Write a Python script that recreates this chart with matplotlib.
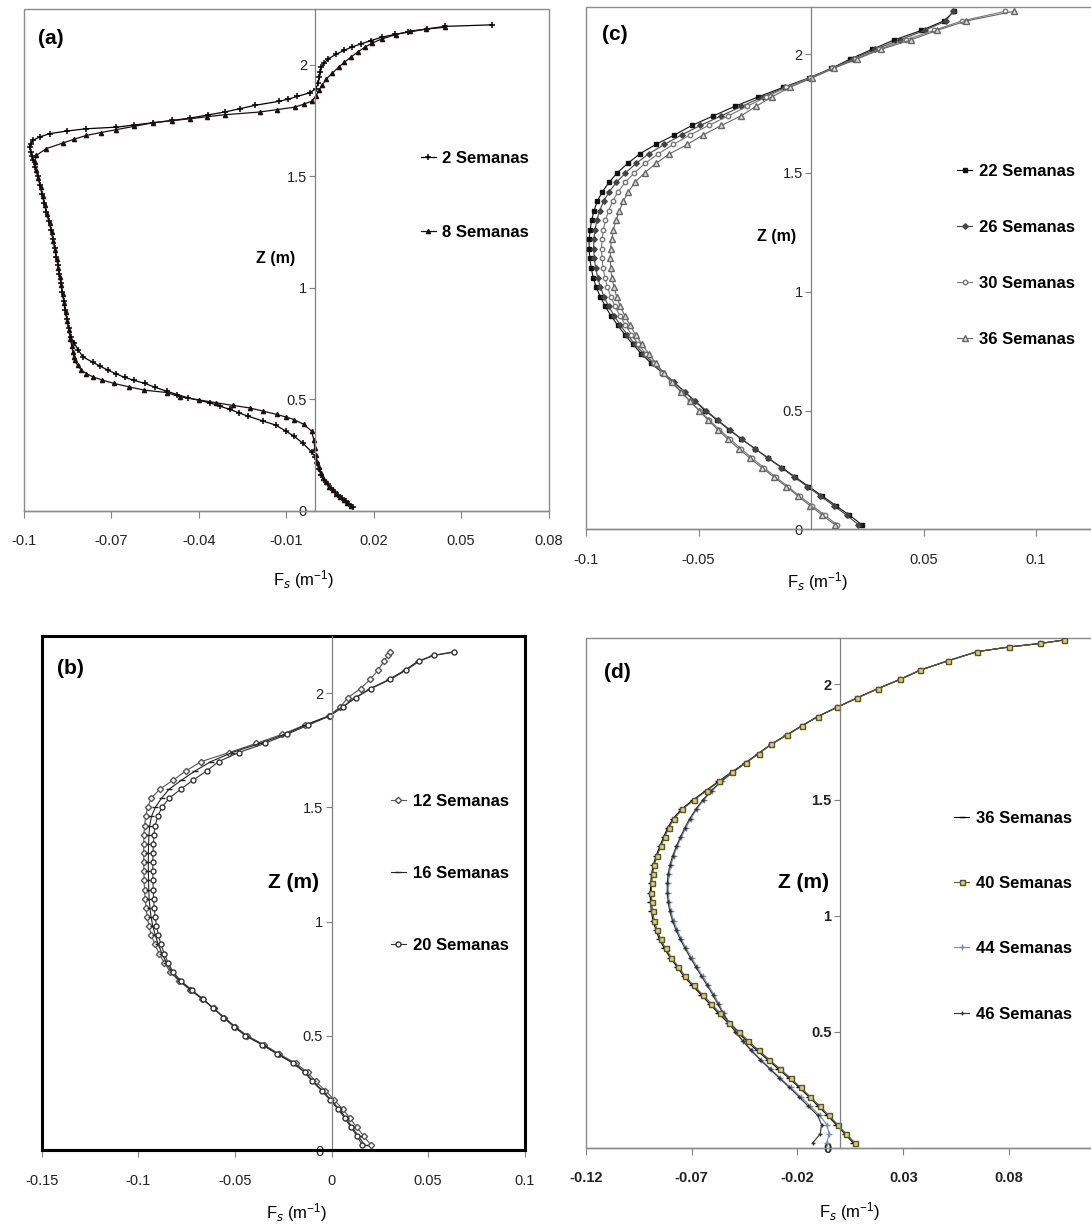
#Perfiles de Fs vs profundidad (a)-(d)

import numpy as np
import matplotlib.pyplot as plt
from matplotlib.patches import Rectangle

NARROW = ['Liberation Sans Narrow', 'Liberation Sans', 'DejaVu Sans']
plt.rcParams['font.family'] = NARROW
plt.rcParams['mathtext.default'] = 'regular'

W, H = 1091, 1229

# ---------------- panel (a): 2 y 8 semanas ----------------
z_2sem = [2.179, 2.172, 2.161, 2.146, 2.136, 2.124, 2.108, 2.094, 2.080, 2.064,
          2.046, 2.027, 2.008, 1.989, 1.966, 1.944, 1.918, 1.893, 1.874, 1.858,
          1.846, 1.836, 1.818, 1.803, 1.788, 1.775, 1.761, 1.750, 1.740, 1.730,
          1.720, 1.713, 1.703, 1.691, 1.676, 1.661, 1.646, 1.631, 1.610, 1.590,
          1.571, 1.54, 1.50, 1.46, 1.42, 1.38, 1.34, 1.30, 1.26, 1.22,
          1.18, 1.14, 1.10, 1.06, 1.02, 0.98, 0.94, 0.90, 0.86, 0.82,
          0.78, 0.75, 0.72, 0.690, 0.665, 0.648, 0.630, 0.614, 0.598, 0.584,
          0.571, 0.553, 0.536, 0.521, 0.506, 0.484, 0.469, 0.454, 0.439, 0.424,
          0.402, 0.384, 0.357, 0.335, 0.302, 0.264, 0.240, 0.212, 0.185, 0.160,
          0.138, 0.118, 0.100, 0.084, 0.070, 0.056, 0.042, 0.030, 0.018]
fs_2sem = [0.0605, 0.0444, 0.0384, 0.0319, 0.0272, 0.0229, 0.0190, 0.0158, 0.0126, 0.0098,
           0.0070, 0.0045, 0.0030, 0.0021, 0.0017, 0.0014, 0.0010, 0.0002, -0.0019, -0.0062,
           -0.0092, -0.0124, -0.0207, -0.0258, -0.0310, -0.0368, -0.0428, -0.0492, -0.0556, -0.0620,
           -0.0682, -0.0785, -0.0850, -0.0911, -0.0945, -0.0968, -0.0976, -0.0979, -0.0976, -0.0971,
           -0.0967, -0.0960, -0.0952, -0.0944, -0.0937, -0.0930, -0.0922, -0.0914, -0.0906, -0.0900,
           -0.0894, -0.0888, -0.0882, -0.0877, -0.0872, -0.0867, -0.0862, -0.0857, -0.0852, -0.0846,
           -0.0838, -0.0826, -0.0812, -0.0797, -0.0762, -0.0737, -0.0711, -0.0683, -0.0654, -0.0620,
           -0.0585, -0.0548, -0.0510, -0.0473, -0.0436, -0.0362, -0.0327, -0.0293, -0.0262, -0.0231,
           -0.0179, -0.0136, -0.0101, -0.0074, -0.0042, -0.0013, 0.0000, 0.0006, 0.0012, 0.0020,
           0.0030, 0.0042, 0.0054, 0.0066, 0.0078, 0.0091, 0.0104, 0.0116, 0.0128]

z_8sem = [2.168, 2.160, 2.151, 2.135, 2.116, 2.098, 2.079, 2.057, 2.034, 2.012,
          1.989, 1.962, 1.937, 1.910, 1.885, 1.860, 1.836, 1.823, 1.810, 1.799,
          1.788, 1.776, 1.767, 1.758, 1.749, 1.740, 1.724, 1.709, 1.696, 1.683,
          1.666, 1.649, 1.624, 1.594, 1.564, 1.53, 1.49, 1.45, 1.41, 1.37,
          1.33, 1.29, 1.25, 1.21, 1.17, 1.13, 1.09, 1.05, 1.01, 0.97,
          0.93, 0.89, 0.85, 0.81, 0.77, 0.74, 0.71, 0.690, 0.675, 0.652,
          0.630, 0.615, 0.600, 0.586, 0.571, 0.556, 0.541, 0.530, 0.511, 0.497,
          0.484, 0.472, 0.461, 0.447, 0.432, 0.420, 0.409, 0.387, 0.357, 0.317,
          0.280, 0.250, 0.220, 0.195, 0.170, 0.148, 0.127, 0.108, 0.092, 0.076,
          0.062, 0.048, 0.035, 0.022]
fs_8sem = [0.0444, 0.0380, 0.0325, 0.0275, 0.0229, 0.0196, 0.0170, 0.0145, 0.0122, 0.0100,
           0.0080, 0.0058, 0.0038, 0.0024, 0.0012, 0.0002, -0.0013, -0.0040, -0.0070, -0.0130,
           -0.0190, -0.0310, -0.0370, -0.0428, -0.0492, -0.0556, -0.0620, -0.0682, -0.0735, -0.0785,
           -0.0827, -0.0865, -0.0922, -0.0956, -0.0962, -0.0957, -0.0949, -0.0941, -0.0934, -0.0927,
           -0.0919, -0.0911, -0.0904, -0.0898, -0.0892, -0.0886, -0.0881, -0.0876, -0.0871, -0.0866,
           -0.0861, -0.0856, -0.0851, -0.0845, -0.0840, -0.0835, -0.0830, -0.0828, -0.0825, -0.0815,
           -0.0802, -0.0785, -0.0762, -0.0730, -0.0691, -0.0640, -0.0588, -0.0510, -0.0465, -0.0400,
           -0.0339, -0.0282, -0.0225, -0.0180, -0.0133, -0.0100, -0.0074, -0.0039, -0.0013, -0.0005,
           -0.0002, 0.0002, 0.0007, 0.0013, 0.0019, 0.0027, 0.0037, 0.0048, 0.0059, 0.0071,
           0.0084, 0.0097, 0.0110, 0.0122]

# ---------------- panel (b): 12, 16 y 20 semanas ----------------
z_b = [0.02, 0.06, 0.10, 0.14, 0.18, 0.22, 0.26, 0.30, 0.34, 0.38,
       0.42, 0.46, 0.50, 0.54, 0.58, 0.62, 0.66, 0.70, 0.74, 0.78,
       0.82, 0.86, 0.90, 0.94, 0.98, 1.02, 1.06, 1.10, 1.14, 1.18,
       1.22, 1.26, 1.30, 1.34, 1.38, 1.42, 1.46, 1.50, 1.54, 1.58,
       1.62, 1.66, 1.70, 1.74, 1.78, 1.82, 1.86, 1.90, 1.94, 1.98,
       2.02, 2.06, 2.10, 2.14, 2.165, 2.18]
fs_12sem = [0.0205, 0.0168, 0.0130, 0.0095, 0.0057, 0.0013, -0.0032, -0.0082, -0.0124, -0.0186,
            -0.0270, -0.0348, -0.0436, -0.0498, -0.0555, -0.0609, -0.0668, -0.0730, -0.0790, -0.0835,
            -0.0866, -0.0892, -0.0915, -0.0932, -0.0945, -0.0954, -0.0960, -0.0965, -0.0968, -0.0970,
            -0.0971, -0.0972, -0.0972, -0.0972, -0.0971, -0.0968, -0.0962, -0.0952, -0.0933, -0.0888,
            -0.0818, -0.0753, -0.0675, -0.0530, -0.0390, -0.0255, -0.0140, -0.0015, 0.0045, 0.0085,
            0.0150, 0.0200, 0.0240, 0.0272, 0.0290, 0.0303]
fs_16sem = [0.0172, 0.0140, 0.0106, 0.0074, 0.0038, -0.0004, -0.0047, -0.0096, -0.0136, -0.0196,
            -0.0278, -0.0355, -0.0443, -0.0503, -0.0558, -0.0610, -0.0667, -0.0727, -0.0785, -0.0828,
            -0.0855, -0.0877, -0.0897, -0.0912, -0.0925, -0.0934, -0.0940, -0.0944, -0.0946, -0.0947,
            -0.0948, -0.0948, -0.0948, -0.0947, -0.0945, -0.0941, -0.0932, -0.0912, -0.0880, -0.0840,
            -0.0775, -0.0705, -0.0625, -0.0515, -0.0370, -0.0240, -0.0135, -0.0012, 0.0058, 0.0123,
            0.0200, 0.0298, 0.0378, 0.0448, 0.0525, 0.0630]
fs_20sem = [0.0160, 0.0132, 0.0100, 0.0068, 0.0032, -0.0009, -0.0052, -0.0100, -0.0140, -0.0200,
            -0.0282, -0.0358, -0.0446, -0.0506, -0.0560, -0.0611, -0.0665, -0.0722, -0.0780, -0.0820,
            -0.0846, -0.0866, -0.0883, -0.0896, -0.0906, -0.0913, -0.0918, -0.0921, -0.0923, -0.0924,
            -0.0925, -0.0925, -0.0924, -0.0922, -0.0919, -0.0913, -0.0900, -0.0878, -0.0840, -0.0780,
            -0.0715, -0.0645, -0.0585, -0.0480, -0.0345, -0.0230, -0.0120, -0.0010, 0.0060, 0.0125,
            0.0205, 0.0305, 0.0385, 0.0455, 0.0530, 0.0636]

# ---------------- panel (c): 22, 26, 30 y 36 semanas ----------------
z_c = [0.02, 0.06, 0.10, 0.14, 0.18, 0.22, 0.26, 0.30, 0.34, 0.38,
       0.42, 0.46, 0.50, 0.54, 0.58, 0.62, 0.66, 0.70, 0.74, 0.78,
       0.82, 0.86, 0.90, 0.94, 0.98, 1.02, 1.06, 1.10, 1.14, 1.18,
       1.22, 1.26, 1.30, 1.34, 1.38, 1.42, 1.46, 1.50, 1.54, 1.58,
       1.62, 1.66, 1.70, 1.74, 1.78, 1.82, 1.86, 1.90, 1.94, 1.98,
       2.02, 2.06, 2.10, 2.14, 2.18]
fs_22sem = [0.0225, 0.0170, 0.0110, 0.0050, -0.0010, -0.0070, -0.0130, -0.0190, -0.0250, -0.0310,
            -0.0365, -0.0418, -0.0470, -0.0518, -0.0563, -0.0612, -0.0662, -0.0712, -0.0755, -0.0793,
            -0.0828, -0.0860, -0.0890, -0.0915, -0.0937, -0.0955, -0.0968, -0.0977, -0.0983, -0.0986,
            -0.0986, -0.0982, -0.0975, -0.0965, -0.0950, -0.0928, -0.0898, -0.0862, -0.0815, -0.0762,
            -0.0690, -0.0607, -0.0530, -0.0435, -0.0340, -0.0235, -0.0125, -0.0010, 0.0090, 0.0175,
            0.0270, 0.0370, 0.0490, 0.0590, 0.0636]
fs_26sem = [0.0210, 0.0158, 0.0100, 0.0042, -0.0016, -0.0075, -0.0133, -0.0192, -0.0250, -0.0308,
            -0.0362, -0.0415, -0.0466, -0.0515, -0.0562, -0.0610, -0.0657, -0.0703, -0.0745, -0.0783,
            -0.0817, -0.0848, -0.0875, -0.0900, -0.0920, -0.0936, -0.0948, -0.0957, -0.0963, -0.0966,
            -0.0965, -0.0960, -0.0952, -0.0940, -0.0922, -0.0898, -0.0865, -0.0825, -0.0778, -0.0722,
            -0.0652, -0.0575, -0.0492, -0.0400, -0.0310, -0.0215, -0.0115, -0.0005, 0.0092, 0.0185,
            0.0285, 0.0395, 0.0505, 0.0600, 0.0630]
fs_30sem = [0.0115, 0.0060, 0.0005, -0.0050, -0.0103, -0.0157, -0.0210, -0.0262, -0.0312, -0.0360,
            -0.0407, -0.0452, -0.0495, -0.0538, -0.0580, -0.0622, -0.0662, -0.0700, -0.0735, -0.0768,
            -0.0798, -0.0825, -0.0850, -0.0872, -0.0890, -0.0905, -0.0916, -0.0924, -0.0929, -0.0931,
            -0.0929, -0.0923, -0.0914, -0.0900, -0.0882, -0.0858, -0.0826, -0.0786, -0.0738, -0.0680,
            -0.0612, -0.0538, -0.0455, -0.0368, -0.0285, -0.0200, -0.0110, -0.0005, 0.0095, 0.0195,
            0.0300, 0.0420, 0.0545, 0.0670, 0.0860]
fs_36sem_c = [0.0105, 0.0050, -0.0005, -0.0058, -0.0110, -0.0165, -0.0220, -0.0272, -0.0322, -0.0370,
              -0.0415, -0.0458, -0.0498, -0.0538, -0.0578, -0.0617, -0.0655, -0.0690, -0.0722, -0.0752,
              -0.0780, -0.0805, -0.0828, -0.0848, -0.0864, -0.0876, -0.0885, -0.0890, -0.0892, -0.0891,
              -0.0886, -0.0878, -0.0867, -0.0852, -0.0835, -0.0812, -0.0783, -0.0740, -0.0690, -0.0630,
              -0.0550, -0.0480, -0.0398, -0.0312, -0.0245, -0.0175, -0.0095, 0.0005, 0.0100, 0.0205,
              0.0310, 0.0443, 0.0560, 0.0690, 0.0900]

# ---------------- panel (d): 36, 40, 44 y 46 semanas ----------------
z_d = [0.02, 0.06, 0.10, 0.14, 0.18, 0.22, 0.26, 0.30, 0.34, 0.38,
       0.42, 0.46, 0.50, 0.54, 0.58, 0.62, 0.66, 0.70, 0.74, 0.78,
       0.82, 0.86, 0.90, 0.94, 0.98, 1.02, 1.06, 1.10, 1.14, 1.18,
       1.22, 1.26, 1.30, 1.34, 1.38, 1.42, 1.46, 1.50, 1.54, 1.58,
       1.62, 1.66, 1.70, 1.74, 1.78, 1.82, 1.86, 1.90, 1.94, 1.98,
       2.02, 2.06, 2.10, 2.14, 2.16, 2.175, 2.19]
fs_36sem_d = [0.0064, 0.0024, -0.0017, -0.0059, -0.0102, -0.0146, -0.0192, -0.0240, -0.0290, -0.0341,
              -0.0391, -0.0439, -0.0484, -0.0529, -0.0573, -0.0614, -0.0655, -0.0697, -0.0737, -0.0769,
              -0.0801, -0.0829, -0.0852, -0.0869, -0.0882, -0.0890, -0.0894, -0.0895, -0.0893, -0.0889,
              -0.0881, -0.0867, -0.0850, -0.0832, -0.0813, -0.0787, -0.0748, -0.0693, -0.0633, -0.0573,
              -0.0511, -0.0446, -0.0385, -0.0325, -0.0252, -0.0179, -0.0104, -0.0013, 0.0081, 0.0179,
              0.0284, 0.0380, 0.0510, 0.0650, 0.0800, 0.0945, 0.1060]
fs_40sem = [0.0072, 0.0031, -0.0010, -0.0052, -0.0095, -0.0139, -0.0185, -0.0232, -0.0282, -0.0333,
            -0.0383, -0.0431, -0.0476, -0.0521, -0.0565, -0.0606, -0.0647, -0.0690, -0.0730, -0.0762,
            -0.0795, -0.0823, -0.0846, -0.0863, -0.0876, -0.0884, -0.0888, -0.0890, -0.0888, -0.0884,
            -0.0876, -0.0862, -0.0845, -0.0827, -0.0808, -0.0782, -0.0743, -0.0688, -0.0628, -0.0569,
            -0.0508, -0.0443, -0.0383, -0.0323, -0.0250, -0.0178, -0.0103, -0.0012, 0.0082, 0.0180,
            0.0285, 0.0380, 0.0510, 0.0650, 0.0800, 0.0945, 0.1060]
fs_44sem = [-0.0062, -0.0050, -0.0062, -0.0095, -0.0140, -0.0185, -0.0232, -0.0280, -0.0327, -0.0373,
            -0.0416, -0.0456, -0.0492, -0.0522, -0.0548, -0.0570, -0.0594, -0.0620, -0.0648, -0.0673,
            -0.0700, -0.0725, -0.0748, -0.0768, -0.0785, -0.0798, -0.0806, -0.0810, -0.0810, -0.0806,
            -0.0797, -0.0784, -0.0767, -0.0748, -0.0727, -0.0703, -0.0676, -0.0643, -0.0603, -0.0558,
            -0.0503, -0.0443, -0.0383, -0.0323, -0.0250, -0.0178, -0.0103, -0.0012, 0.0082, 0.0180,
            0.0285, 0.0380, 0.0510, 0.0650, 0.0800, 0.0945, 0.1060]
fs_46sem = [-0.0128, -0.0092, -0.0086, -0.0105, -0.0150, -0.0193, -0.0238, -0.0285, -0.0331, -0.0376,
            -0.0419, -0.0458, -0.0494, -0.0525, -0.0552, -0.0576, -0.0600, -0.0626, -0.0654, -0.0680,
            -0.0706, -0.0731, -0.0754, -0.0774, -0.0790, -0.0803, -0.0811, -0.0815, -0.0815, -0.0811,
            -0.0802, -0.0789, -0.0772, -0.0753, -0.0732, -0.0708, -0.0680, -0.0647, -0.0607, -0.0561,
            -0.0506, -0.0445, -0.0384, -0.0324, -0.0251, -0.0178, -0.0103, -0.0012, 0.0082, 0.0180,
            0.0285, 0.0380, 0.0510, 0.0650, 0.0800, 0.0945, 0.1060]

# ticks
xt_a = [-0.1, -0.07, -0.04, -0.01, 0.02, 0.05, 0.08]
xl_a = ['-0.1', '-0.07', '-0.04', '-0.01', '0.02', '0.05', '0.08']
xt_b = [-0.15, -0.1, -0.05, 0, 0.05, 0.1]
xl_b = ['-0.15', '-0.1', '-0.05', '0', '0.05', '0.1']
xt_c = [-0.1, -0.05, 0.05, 0.1]
xl_c = ['-0.1', '-0.05', '0.05', '0.1']
xt_d = [-0.12, -0.07, -0.02, 0.03, 0.08]
xl_d = ['-0.12', '-0.07', '-0.02', '0.03', '0.08']
yt = [0, 0.5, 1, 1.5, 2]
yl = ['0', '0.5', '1', '1.5', '2']

XLABEL = 'F$_{\\mathit{s}}$ (m$^{-1}$)'


def make_axes(fig, left, top, right, bottom, xlim, ylim, xt, xl,
              box_color='#8c8c8c', box_lw=1.0, tick_weight='normal'):
    ax = fig.add_axes([left / W, 1 - bottom / H, (right - left) / W, (bottom - top) / H])
    ax.set_xlim(*xlim)
    ax.set_ylim(*ylim)
    for s in ['top', 'right']:
        ax.spines[s].set_visible(False)
    ax.spines['left'].set_position(('data', 0))
    ax.spines['left'].set_color('#808080')
    ax.spines['left'].set_linewidth(0.9)
    ax.spines['bottom'].set_color(box_color)
    ax.spines['bottom'].set_linewidth(box_lw)
    ax.add_patch(Rectangle((0, 0), 1, 1, transform=ax.transAxes, fill=False,
                           edgecolor=box_color, linewidth=box_lw, clip_on=False, zorder=0))
    ax.set_xticks(xt, xl)
    ax.set_yticks(yt, yl)
    ax.tick_params(axis='y', direction='out', length=4, width=0.8, color='#808080',
                   labelsize=10.5, labelcolor='#222222', pad=2)
    ax.tick_params(axis='x', direction='out', length=5, width=0.8, color='#808080',
                   labelsize=10.5, labelcolor='#222222', pad=12)
    for t in ax.get_xticklabels() + ax.get_yticklabels():
        t.set_fontweight(tick_weight)
    ax.patch.set_alpha(0)
    return ax


LEG_PROP = {'family': NARROW, 'weight': 'bold', 'size': 12}


def add_legend(ax, x, y, spacing, handles=None, labels=None):
    kw = dict(loc='upper left', bbox_to_anchor=(x, y), frameon=False, prop=LEG_PROP,
              handlelength=0.9, handletextpad=0.4, labelspacing=spacing,
              borderpad=0, borderaxespad=0)
    if handles is None:
        ax.legend(**kw)
    else:
        ax.legend(handles, labels, **kw)


def fig_text(fig, x, y, s, **kw):
    fig.text(x / W, 1 - y / H, s, ha='center', va='center', **kw)


fig = plt.figure(figsize=(W / 100, H / 100), dpi=100)

# (a)
ax = make_axes(fig, 23.6, 9, 548.7, 510.7, (-0.1, 0.08), (0, 2.25), xt_a, xl_a)
ax.plot(fs_2sem, z_2sem, color='black', lw=0.9, marker='+', ms=5, mew=1.1, label='2 Semanas')
ax.plot(fs_8sem, z_8sem, color='#1a1010', lw=0.9, marker='^', ms=3, label='8 Semanas')
add_legend(ax, 0.756, 0.717, 3.54)
fig_text(fig, 51, 38, '(a)', fontsize=15, weight='bold', family='Liberation Sans')
fig_text(fig, 276, 258, 'Z (m)', fontsize=11.5, weight='bold')
fig_text(fig, 304, 580, XLABEL, fontsize=12)

# (c)
ax = make_axes(fig, 586, 6.7, 586 + 562.5, 529.3, (-0.1, 0.15), (0, 2.2), xt_c, xl_c)
ax.plot(fs_22sem, z_c, color='#111111', lw=0.8, marker='s', ms=3, label='22 Semanas')
ax.plot(fs_26sem, z_c, color='#444444', lw=0.8, marker='D', ms=2.8, label='26 Semanas')
ax.plot(fs_30sem, z_c, color='#777777', lw=0.8, marker='o', ms=3.2, mfc='white', label='30 Semanas')
ax.plot(fs_36sem_c, z_c, color='#666666', lw=0.8, marker='^', ms=3.8, mfc='#dddddd', label='36 Semanas')
add_legend(ax, 0.66, 0.699, 2.46)
fig_text(fig, 615, 35, '(c)', fontsize=15, weight='bold', family='Liberation Sans')
fig_text(fig, 777, 237, 'Z (m)', fontsize=11.5, weight='bold')
fig_text(fig, 818, 582, XLABEL, fontsize=12)

# (b)
ax = make_axes(fig, 41.7, 636, 524.8, 1150, (-0.15, 0.1), (0, 2.25), xt_b, xl_b,
               box_color='black', box_lw=2.2)
ax.plot(fs_12sem, z_b, color='#555555', lw=0.8, marker='D', ms=3.2, mfc='white', label='12 Semanas')
ax.plot(fs_16sem, z_b, color='#222222', lw=0.8, marker='_', ms=4, label='16 Semanas')
ax.plot(fs_20sem, z_b, color='#333333', lw=0.8, marker='o', ms=3.6, mfc='white', label='20 Semanas')
add_legend(ax, 0.723, 0.692, 3.4)
fig_text(fig, 70, 669, '(b)', fontsize=15, weight='bold', family='Liberation Sans')
fig_text(fig, 293, 882, 'Z (m)', fontsize=15, weight='bold')
fig_text(fig, 297, 1213, XLABEL, fontsize=12)

# (d)
ax = make_axes(fig, 585.7, 637.7, 585.7 + 529.25, 1147.7, (-0.12, 0.13), (0, 2.2), xt_d, xl_d,
               tick_weight='bold')
l36, = ax.plot(fs_36sem_d, z_d, color='black', lw=0.8, marker='_', ms=4, label='36 Semanas')
l44, = ax.plot(fs_44sem, z_d, color='#7f88a6', lw=0.8, marker='+', ms=4, label='44 Semanas')
l46, = ax.plot(fs_46sem, z_d, color='#333333', lw=0.8, marker='+', ms=3.5, label='46 Semanas')
l40, = ax.plot(fs_40sem, z_d, color='#55552a', lw=0.8, marker='s', ms=3.6, mfc='#d8cf7c',
               mec='#55552a', label='40 Semanas')
add_legend(ax, 0.696, 0.661, 3.02, [l36, l40, l44, l46],
           ['36 Semanas', '40 Semanas', '44 Semanas', '46 Semanas'])
fig_text(fig, 617, 672, '(d)', fontsize=15, weight='bold', family='Liberation Sans')
fig_text(fig, 803, 882, 'Z (m)', fontsize=15, weight='bold')
fig_text(fig, 850, 1212, XLABEL, fontsize=12)

fig.savefig('out.png', dpi=100)
